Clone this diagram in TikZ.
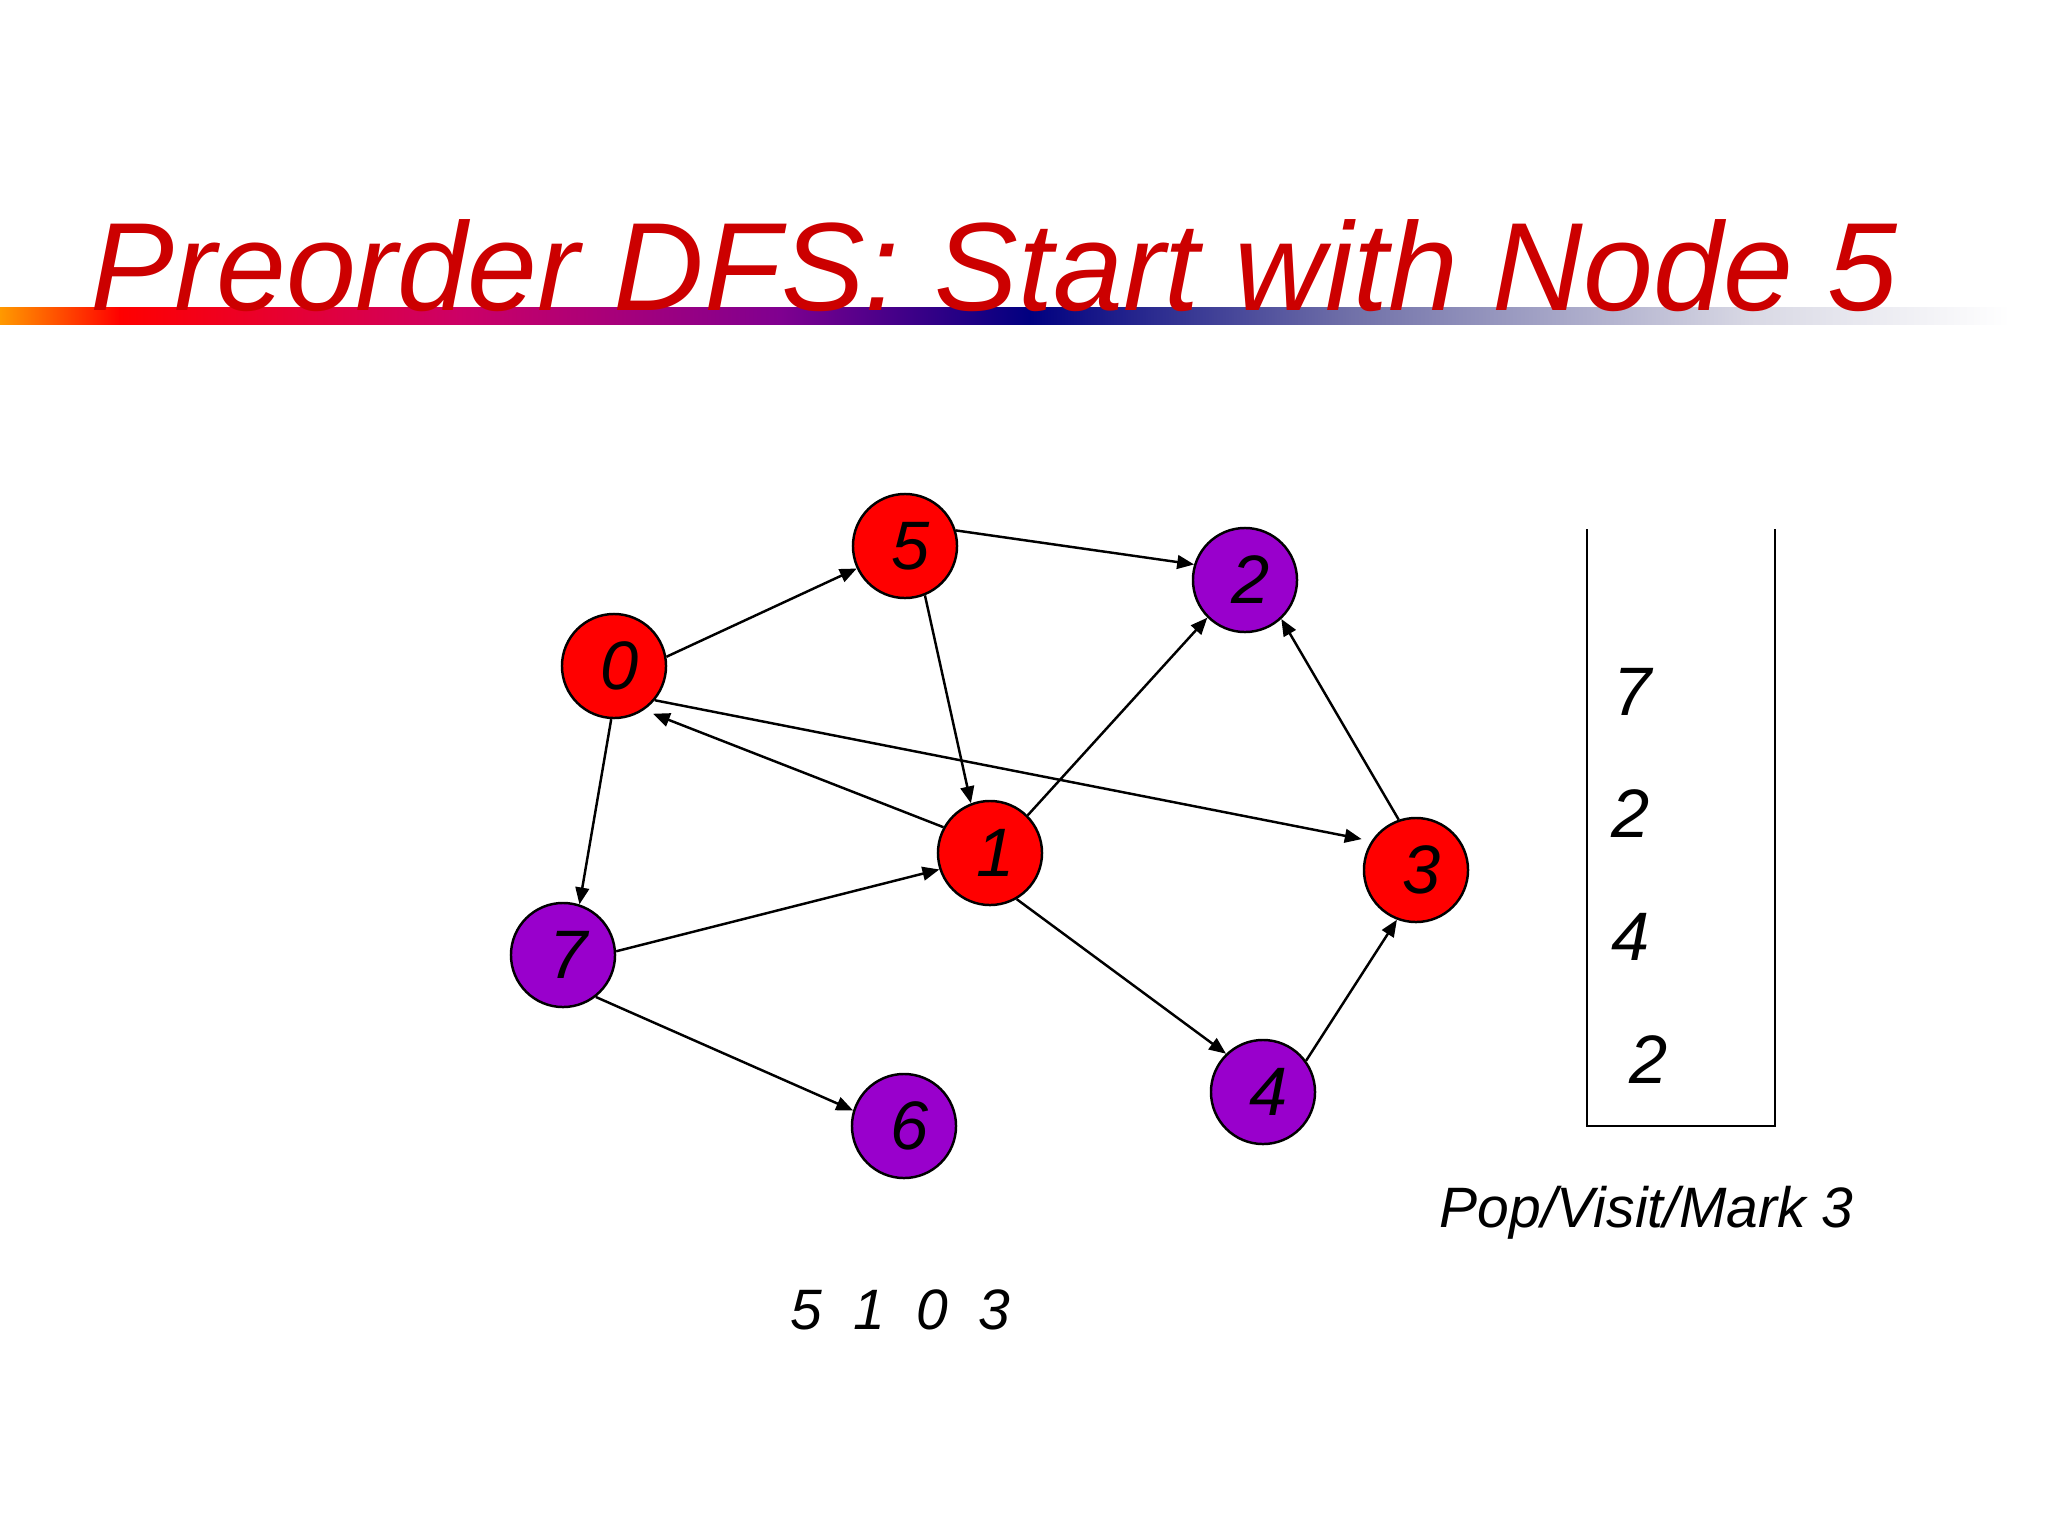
\documentclass[tikz,border=0pt]{standalone}
\usepackage{fontspec}
\setmainfont{Liberation Sans}
\usetikzlibrary{arrows.meta}
\definecolor{nodered}{HTML}{FF0000}
\definecolor{nodepurple}{HTML}{9900CC}
\definecolor{titlered}{HTML}{CC0000}
\definecolor{gorange}{HTML}{FF9900}
\definecolor{gred}{HTML}{FF0000}
\definecolor{gcrimson}{HTML}{CC0066}
\definecolor{gpurple}{HTML}{800090}
\definecolor{gnavy}{HTML}{000080}
\definecolor{gslate}{HTML}{7070A8}
\definecolor{glight}{HTML}{D8D8E4}
\begin{document}
\begin{tikzpicture}[x=0.01cm,y=-0.01cm,
  vtx/.style={circle,draw=black,line width=0.7pt,minimum size=1.04cm,inner sep=0pt,
              font=\fontsize{19.5}{22}\selectfont\itshape},
  visited/.style={vtx,fill=nodered},
  unvisited/.style={vtx,fill=nodepurple},
  vlabel/.style={inner sep=0pt,font=\fontsize{19.5}{22}\selectfont\itshape},
  edge/.style={line width=0.7pt,-{Triangle[length=4.8pt,width=3.9pt]}},
  stacknum/.style={inner sep=0pt,font=\fontsize{19.5}{22}\selectfont\itshape},
  caption/.style={inner sep=0pt,font=\fontsize{16.2}{18}\selectfont\itshape}]
\useasboundingbox (0,0) rectangle (2048,1536);
\fill[white] (0,0) rectangle (2048,1536);
% gradient bar
\shade[left color=gorange,right color=gred] (0,307) rectangle (120,324);
\shade[left color=gred,right color=gcrimson] (119,307) rectangle (460,324);
\shade[left color=gcrimson,right color=gpurple] (459,307) rectangle (780,324);
\shade[left color=gpurple,right color=gnavy] (779,307) rectangle (1030,324);
\shade[left color=gnavy,right color=gslate] (1029,307) rectangle (1350,324);
\shade[left color=gslate,right color=glight] (1349,307) rectangle (1750,324);
\shade[left color=glight,right color=white] (1749,307) rectangle (2010,324);
% title
\node[anchor=base west,inner sep=0pt,text=titlered,font=\fontsize{35.7}{40}\selectfont\itshape]
  (title) at (90,310) {Preorder DFS: Start with Node 5};
% vertices
\node[visited]   (n5) at (905,546)  {};
\node[unvisited] (n2) at (1245,580) {};
\node[visited]   (n0) at (614,666)  {};
\node[visited]   (n1) at (990,853)  {};
\node[visited]   (n3) at (1416,870) {};
\node[unvisited] (n7) at (563,955)  {};
\node[unvisited] (n4) at (1263,1092) {};
\node[unvisited] (n6) at (904,1126) {};
\foreach \n/\t in {n5/5,n2/2,n0/0,n1/1,n3/3,n7/7,n4/4,n6/6}
  \node[vlabel] (\n-lbl) at ([xshift=0.06cm]\n.center) {\t};
% edges
\draw[edge] (n0.10) -- (n5.-155);
\draw[edge] (n5.17) -- (n2.163);
\draw[edge] (n5.-68) -- (n1.111);
\draw[edge,shorten >=2.8pt] (n0.-40) -- (n3.147);
\draw[edge,shorten >=2.8pt] (n1.151) -- (n0.-56);
\draw[edge] (n1.45) -- (n2.-135);
\draw[edge] (n3.109) -- (n2.-47);
\draw[edge] (n0.-93) -- (n7.72);
\draw[edge] (n7.4) -- (n1.-162);
\draw[edge] (n7.-52) -- (n6.163);
\draw[edge] (n1.-60) -- (n4.134);
\draw[edge] (n4.36) -- (n3.-111);
% stack
\draw[line width=0.7pt] (1587,529) -- (1587,1126) -- (1775,1126) -- (1775,529);
\node[stacknum] (s1) at (1633,692)  {7};
\node[stacknum] (s2) at (1631,814)  {2};
\node[stacknum] (s3) at (1631,937)  {4};
\node[stacknum] (s4) at (1649,1060) {2};
% captions
\node[caption,anchor=base west] (action) at (1439,1227) {Pop/Visit/Mark 3};
\node[caption,anchor=base west] (order) at (790,1329)
  {5\hspace{0.31cm}1\hspace{0.31cm}0\hspace{0.31cm}3};
\end{tikzpicture}
\end{document}
